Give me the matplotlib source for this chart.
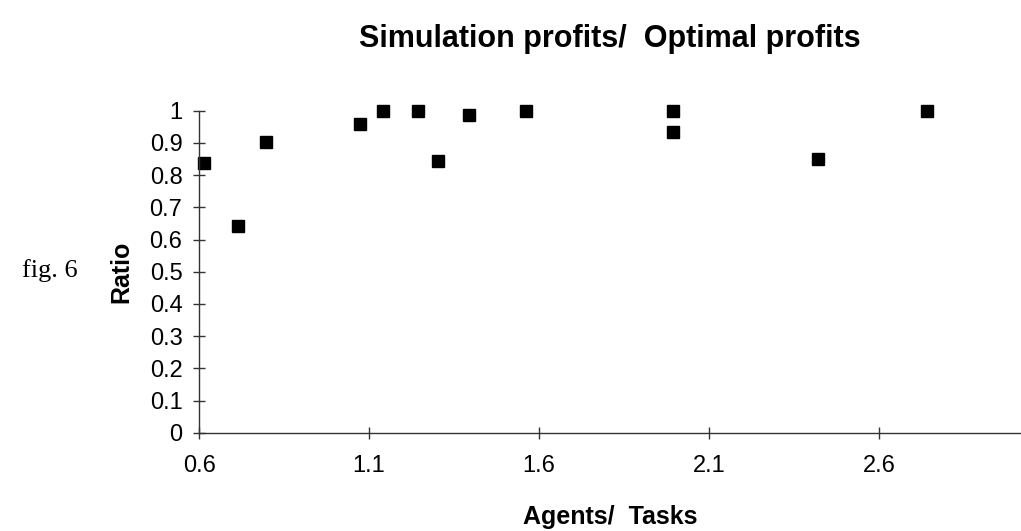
import matplotlib.pyplot as plt
import numpy as np

# agents / tasks ratio vs simulation profit / optimal profit
agents_tasks = [0.613, 0.713, 0.797, 1.074, 1.14, 1.245, 1.304, 1.395, 1.56, 1.995, 1.995, 2.42, 2.74]
ratio = [0.839, 0.643, 0.902, 0.960, 1.0, 1.0, 0.844, 0.986, 1.0, 1.0, 0.934, 0.850, 1.0]

xticks = [0.6, 1.1, 1.6, 2.1, 2.6]
yticks = np.arange(0, 1.01, 0.1)
ytick_labels = ['0', '0.1', '0.2', '0.3', '0.4', '0.5', '0.6', '0.7', '0.8', '0.9', '1']

plt.rcParams['font.family'] = 'Liberation Sans'

F = plt.figure(figsize=(10.21, 5.31), dpi=100)
A = F.add_axes([0.195, 0.185, 0.805, 0.6065])

A.plot(agents_tasks, ratio, 's', color='k', markersize=8, clip_on=False)

A.set_xlim(0.6, 3.017)
A.set_ylim(0, 1)
A.set_xticks(xticks)
A.set_xticklabels(['0.6', '1.1', '1.6', '2.1', '2.6'])
A.set_yticks(yticks)
A.set_yticklabels(ytick_labels)

A.spines['top'].set_visible(False)
A.spines['right'].set_visible(False)
for s in ['left', 'bottom']:
    A.spines[s].set_color('#333333')
    A.spines[s].set_linewidth(1.0)

A.tick_params(axis='both', direction='inout', length=8, width=1.0, color='#333333', labelsize=17)
A.tick_params(axis='x', pad=12)
A.tick_params(axis='y', pad=8)

A.set_xlabel('Agents/  Tasks', fontsize=18, fontweight='bold', labelpad=20)
A.set_ylabel('Ratio', fontsize=18, fontweight='bold', labelpad=12)
A.set_title('Simulation profits/  Optimal profits', fontsize=22, fontweight='bold', pad=46)

F.text(0.022, 0.49, 'fig. 6', fontsize=19, family='Liberation Serif', va='center', ha='left')

plt.savefig('out.png', dpi=100)
